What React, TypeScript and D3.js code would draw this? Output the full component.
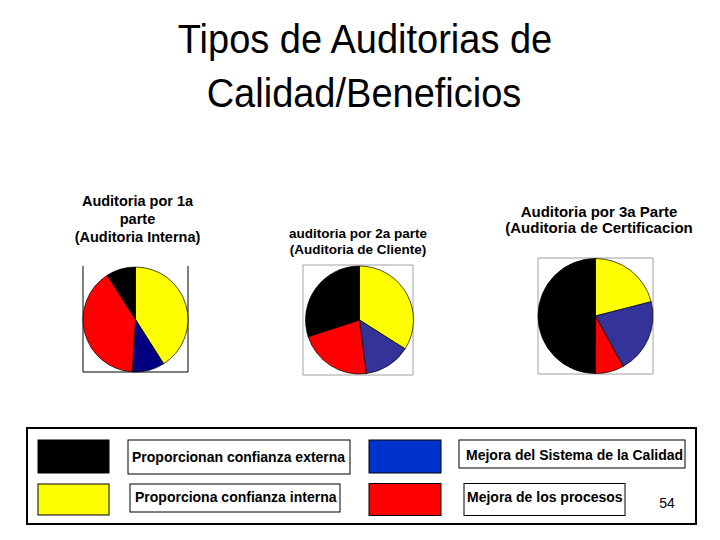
import React from 'react';
import * as d3 from 'd3';

// categories in slice order (clockwise from 12 o'clock)
const categories = ['interna', 'sistema', 'procesos', 'externa'];

const legendLabels = {
  externa: 'Proporcionan confianza externa',
  interna: 'Proporciona confianza interna',
  sistema: 'Mejora del Sistema de la Calidad',
  procesos: 'Mejora de los procesos',
};

// share of each benefit
const primeraParte = [41, 10, 40, 9];
const segundaParte = [34, 14, 22, 30];
const terceraParte = [21, 21, 8, 50];

const titles = [
  ['Auditoria por 1a', 'parte', '(Auditoria Interna)'],
  ['auditoria por 2a parte', '(Auditoria de Cliente)'],
  ['Auditoria por 3a Parte', '(Auditoria de Certificacion'],
];

const FONT = 'Liberation Sans, Arial, Helvetica, sans-serif';

const baseColors = { externa: '#000000', interna: '#ffff00', procesos: '#ff0000' };

const pies = [
  {
    values: primeraParte, cx: 135.5, cy: 319.5, r: 52.5, blue: '#000080',
    frame: { x0: 83, x1: 188, y0: 266, y1: 372, color: '#000', sides: 'lrb' },
    title: { x: 137.5, y: 205.5, size: 14.5, lh: 18 },
  },
  {
    values: segundaParte, cx: 359.5, cy: 320, r: 54, blue: '#333399',
    frame: { x0: 303, x1: 413, y0: 265, y1: 375, color: '#a0a0a0', sides: 'lrtb' },
    title: { x: 358, y: 238, size: 13.5, lh: 15.5 },
  },
  {
    values: terceraParte, cx: 595.5, cy: 316, r: 57.5, blue: '#333399',
    frame: { x0: 538, x1: 653, y0: 258, y1: 374, color: '#a0a0a0', sides: 'lrtb' },
    title: { x: 599, y: 217, size: 15, lh: 15.5 },
  },
];

const legendItems = [
  { key: 'externa', sw: [38, 440, 71, 33], box: [128, 440, 222, 34], tx: 132, ty: 461.5 },
  { key: 'interna', sw: [38, 484, 71, 31], box: [130, 484, 210, 28], tx: 135, ty: 501.5 },
  { key: 'sistema', sw: [369, 440, 72, 33], box: [459, 440, 226, 28], tx: 466, ty: 460 },
  { key: 'procesos', sw: [369, 483.5, 72, 32], box: [464, 483.5, 161, 32], tx: 467, ty: 502 },
];

function Pie({ cfg, lines }) {
  const pie = d3.pie<number>().sort(null).value(d => d);
  const arc = d3.arc<d3.PieArcDatum<number>>().innerRadius(0).outerRadius(cfg.r);
  const arcs = pie(cfg.values);
  const color = (i: number) => {
    const k = categories[i];
    return k === 'sistema' ? cfg.blue : baseColors[k];
  };
  const f = cfg.frame;
  return (
    <g>
      {lines.map((t, i) => (
        <text key={i} x={cfg.title.x} y={cfg.title.y + i * cfg.title.lh} textAnchor="middle"
          fontFamily={FONT} fontWeight="bold" fontSize={cfg.title.size} fill="#000">{t}</text>
      ))}
      <g stroke={f.color} strokeWidth={1}>
        {f.sides.includes('l') && <line x1={f.x0} x2={f.x0} y1={f.y0} y2={f.y1} />}
        {f.sides.includes('r') && <line x1={f.x1} x2={f.x1} y1={f.y0} y2={f.y1} />}
        {f.sides.includes('t') && <line x1={f.x0} x2={f.x1} y1={f.y0} y2={f.y0} />}
        {f.sides.includes('b') && <line x1={f.x0} x2={f.x1} y1={f.y1} y2={f.y1} />}
      </g>
      <g transform={`translate(${cfg.cx},${cfg.cy})`}>
        {arcs.map((a, i) => (
          <path key={i} d={arc(a) || ''} fill={color(i)} stroke="#000" strokeWidth={0.7} />
        ))}
      </g>
    </g>
  );
}

export default function App() {
  const legendColor = { externa: '#000000', interna: '#ffff00', sistema: '#0033cc', procesos: '#ff0000' };
  return (
    <svg width={720} height={540} style={{ position: 'absolute', left: 0, top: 0, background: '#fff' }}>
      <rect x={0} y={0} width={720} height={540} fill="#fff" />
      <text transform="translate(365,53) scale(1,1.08)" textAnchor="middle" fontFamily={FONT} fontSize={38} fill="#000">Tipos de Auditorias de</text>
      <text transform="translate(364,107) scale(1,1.08)" textAnchor="middle" fontFamily={FONT} fontSize={38} fill="#000">Calidad/Beneficios</text>

      {pies.map((p, i) => <Pie key={i} cfg={p} lines={titles[i]} />)}

      <rect x={27} y={428} width={669} height={96} fill="#fff" stroke="#000" strokeWidth={2} />
      {legendItems.map(it => (
        <g key={it.key}>
          <rect x={it.sw[0]} y={it.sw[1]} width={it.sw[2]} height={it.sw[3]} fill={legendColor[it.key]} stroke="#000" strokeWidth={1} />
          <rect x={it.box[0]} y={it.box[1]} width={it.box[2]} height={it.box[3]} fill="#fff" stroke="#000" strokeWidth={1} />
          <text x={it.tx} y={it.ty} fontFamily={FONT} fontWeight="bold" fontSize={14} fill="#000">{legendLabels[it.key]}</text>
        </g>
      ))}
      <text x={667} y={508} textAnchor="middle" fontFamily={FONT} fontSize={14} fill="#000">54</text>
    </svg>
  );
}
